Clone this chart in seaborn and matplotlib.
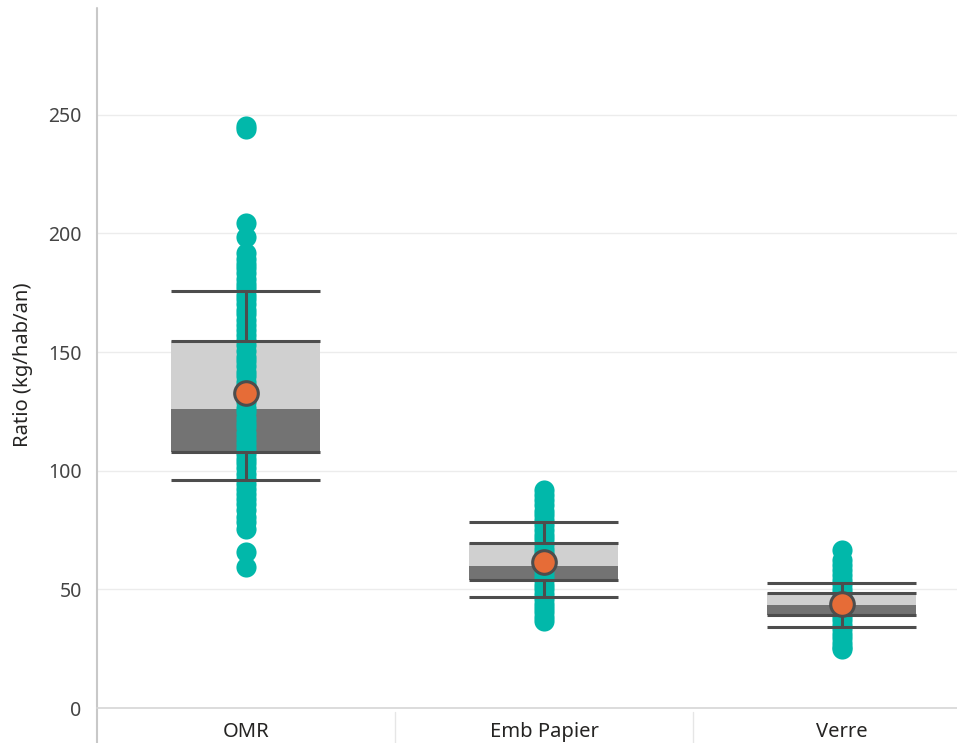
# Import libraries
import matplotlib.pyplot as plt
import pandas as pd
import seaborn as sns

# Define data
categories = ['OMR', 'Emb Papier', 'Verre']

omr_values = [
    245.2, 243.8, 204.5, 198.4, 191.6, 189.3, 187.1, 185.4, 183.2, 181.0,
    178.6, 176.9, 174.2, 172.5, 170.1, 167.8, 165.9, 163.4, 161.2, 159.5,
    157.3, 155.0, 152.8, 150.6, 148.1, 146.4, 144.0, 141.7, 139.9, 137.3,
    135.6, 133.1, 131.2, 128.8, 126.5, 124.7, 122.3, 120.1, 118.4, 116.0,
    113.8, 111.5, 109.6, 107.2, 105.1, 103.3, 101.0, 98.7, 96.5, 94.2,
    92.4, 90.1, 88.0, 85.8, 83.5, 80.6, 78.2, 75.4, 65.9, 59.6
]
emb_papier_values = [
    91.8, 89.7, 87.5, 85.6, 83.2, 81.4, 79.1, 77.3, 75.2, 73.0,
    71.1, 69.3, 67.2, 65.4, 63.1, 61.5, 59.6, 57.8, 55.7, 53.9,
    51.8, 50.0, 47.9, 46.1, 44.0, 42.2, 40.3, 38.4, 36.6
]
verre_values = [
    66.6, 62.4, 60.1, 58.0, 56.2, 54.1, 52.3, 50.2, 48.4, 46.5,
    44.6, 42.7, 40.8, 38.9, 37.0, 35.1, 33.2, 31.3, 29.4, 27.5,
    25.6, 24.8
]

whisker_high = [175.8, 78.3, 52.5]
q3_values = [154.8, 69.4, 48.3]
median_values = [125.9, 59.9, 43.5]
q1_values = [107.8, 54.0, 39.2]
whisker_low = [96.0, 46.9, 34.3]
mean_values = [132.6, 61.6, 43.8]

# Long-form table for seaborn
df = pd.DataFrame({
    'categorie': (['OMR'] * len(omr_values) + ['Emb Papier'] * len(emb_papier_values)
                  + ['Verre'] * len(verre_values)),
    'ratio': omr_values + emb_papier_values + verre_values,
})

sns.set_style('white')
plt.rcParams['font.family'] = ['Noto Sans', 'DejaVu Sans']

teal = '#01B8AA'
orange = '#E66C37'
line_col = '#4d4d4d'
text_col = '#252423'

fig = plt.figure(figsize=(9.57, 7.43), dpi=100)
ax = fig.add_axes([97 / 957, 35 / 743, 1 - 97 / 957, 700 / 743])

x_pos = list(range(len(categories)))
half = 0.25

# Boxes: dark lower half (Q1 -> median), light upper half (median -> Q3)
ax.bar(x_pos, [m - q for m, q in zip(median_values, q1_values)], bottom=q1_values,
       width=2 * half, color='#737373', zorder=1, linewidth=0)
ax.bar(x_pos, [q - m for q, m in zip(q3_values, median_values)], bottom=median_values,
       width=2 * half, color='#d0d0d0', zorder=1, linewidth=0)

# Points
sns.stripplot(data=df, x='categorie', y='ratio', order=categories, jitter=False,
              color=teal, size=14.5, linewidth=0, ax=ax, zorder=2)

# Whiskers and box edges
for vals in (whisker_high, q3_values, q1_values, whisker_low):
    ax.hlines(vals, [x - half for x in x_pos], [x + half for x in x_pos],
              color=line_col, lw=2.2, zorder=3)
ax.vlines(x_pos, q3_values, whisker_high, color=line_col, lw=2.2, zorder=3)
ax.vlines(x_pos, whisker_low, q1_values, color=line_col, lw=2.2, zorder=3)

# Mean markers
ax.scatter(x_pos, mean_values, s=17 ** 2, color=orange, edgecolor=line_col,
           linewidth=2.2, zorder=4)

# Axes styling
ax.set_xlim(-0.5, 2.386)
ax.set_ylim(0, 295)
ax.set_yticks([0, 50, 100, 150, 200, 250])
ax.yaxis.grid(True, color='#ececec', lw=1)
ax.set_axisbelow(True)
ax.set_xlabel('')
ax.set_ylabel('Ratio (kg/hab/an)', fontsize=14.5, color=text_col)
ax.yaxis.set_label_coords(-64 / 860, 0.49)
ax.tick_params(axis='y', length=0, pad=11, labelsize=14, labelcolor='#444444')
ax.tick_params(axis='x', length=0, pad=10, labelsize=14.5, labelcolor=text_col)

for side in ('top', 'right', 'left'):
    ax.spines[side].set_visible(False)
ax.spines['bottom'].set_color('#d6d6d6')
ax.spines['bottom'].set_linewidth(1.2)

# Left axis line running into the label band, and category separators
ax.plot([0, 0], [-0.06, 1.0], transform=ax.transAxes, color='#c8c8c8', lw=1.5,
        clip_on=False)
for sep in (0.5, 1.5):
    ax.plot([sep, sep], [-0.006, -0.06], transform=ax.get_xaxis_transform(),
            color='#e6e6e6', lw=1, clip_on=False)

fig.savefig('out.png', dpi=100)
